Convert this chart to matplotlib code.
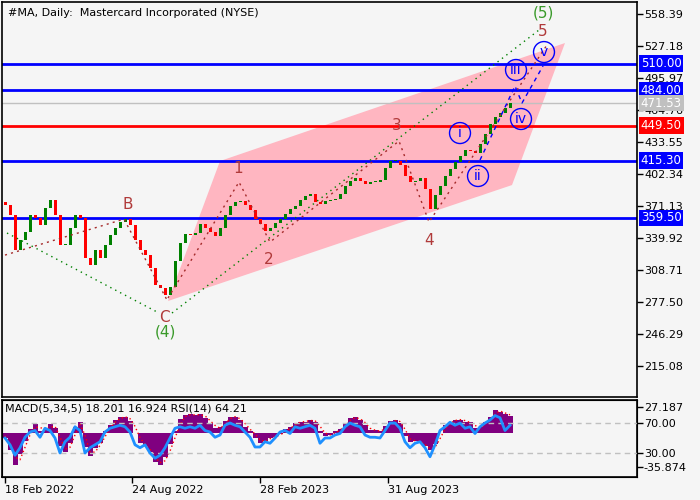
import numpy as np
import matplotlib
matplotlib.use("Agg")
import matplotlib.pyplot as plt
import matplotlib.transforms as mtransforms
from matplotlib.patches import Polygon

# weekly closes (every 5 trading days), from 18 Feb 2022
closes = [372, 362, 328, 338, 346, 362, 359, 353, 369, 377,
          362, 333, 333, 350, 362, 359, 320, 314, 328, 320,
          333, 343, 350, 356, 358, 353, 338, 328, 323, 311,
          294, 291, 284, 292, 318, 335, 344, 343, 345, 354,
          350, 346, 342, 350, 362, 371, 375, 376, 372, 367,
          358, 354, 347, 350, 355, 358, 363, 368, 371, 377,
          381, 383, 375, 373, 376, 377, 378, 383, 391, 396,
          398, 396, 393, 395, 395, 397, 408, 415, 415, 411,
          400, 395, 396, 398, 388, 368, 382, 391, 400, 407,
          414, 420, 426, 425, 423, 432, 441, 451, 458, 462,
          467, 472]
first_open = 375

rsi = [50, 41, 27, 37, 51, 58, 60, 51, 63, 60,
       50, 30, 45, 51, 65, 60, 30, 37, 41, 45,
       58, 63, 65, 67, 65, 58, 41, 37, 41, 30,
       23, 27, 37, 50, 63, 65, 63, 65, 63, 67,
       60, 58, 51, 54, 67, 70, 67, 65, 58, 51,
       38, 38, 45, 43, 50, 58, 60, 56, 65, 63,
       65, 67, 63, 43, 50, 50, 54, 56, 65, 70,
       67, 65, 54, 51, 51, 50, 60, 70, 70, 63,
       45, 37, 43, 45, 37, 25, 41, 60, 65, 71,
       67, 70, 63, 65, 56, 65, 70, 74, 80, 77,
       60, 67]

macd = [-5, -18, -33, -22, -8, 4, 9, 2, 4, 9,
        5, -14, -20, -10, 6, 12, -15, -24, -16, -10,
        2, 8, 14, 17, 17, 13, 0, -10, -14, -20,
        -30, -33, -25, -12, 2, 15, 19, 20, 19, 20,
        16, 10, 5, 6, 13, 17, 17, 14, 6, 2,
        -5, -10, -8, -5, -4, -1, 4, 6, 10, 12,
        12, 14, 12, 2, -3, -2, 2, 4, 10, 16,
        17, 14, 8, 3, 3, 2, 7, 13, 14, 10,
        -3, -9, -8, -10, -14, -18, -12, 0, 8, 12,
        14, 14, 12, 11, 5, 6, 12, 17, 24, 22,
        20, 18]

signal = [-3, -11, -25, -28, -15, -2, 6, 6, 3, 6,
          7, -4, -17, -15, -2, 9, -2, -20, -20, -13,
          -4, 5, 11, 15, 17, 15, 7, -5, -12, -17,
          -25, -31, -29, -19, -5, 8, 17, 19, 19, 19,
          18, 13, 8, 5, 9, 15, 17, 15, 10, 4,
          -1, -7, -9, -6, -4, -2, 1, 5, 8, 11,
          12, 13, 13, 7, 0, -2, 0, 3, 7, 13,
          16, 15, 11, 5, 3, 2, 4, 10, 13, 12,
          4, -6, -8, -9, -12, -16, -15, -6, 4, 10,
          13, 14, 13, 11, 8, 5, 9, 14, 20, 23,
          21, 19]

# levels
blue_levels = [510.0, 484.0, 415.3, 359.5]
red_level = 449.5
last_price = 471.53

# channel (day, price)
channel_days = [163, 215, 560, 507]
channel_prices = [278.5, 415.0, 530.1, 391.6]

# wave paths
green_abc = ([2, 154], [344.8, 266.8])
green_up = ([167, 534], [266.8, 542.8])
brown_abc = ([0, 119, 162], [323.3, 358.4, 279.5])
brown_imp = ([163, 234, 265, 394, 424, 542], [281.4, 394.5, 336.0, 434.5, 355.5, 528.2])
blue_sub = ([475, 510, 517, 538], [416.0, 488.1, 471.6, 507.7])

wave_labels = ["B", "C", "1", "2", "3", "4", "5"]
wave_lab_days = [123, 159, 233, 264, 392, 424, 538]
wave_lab_prices = [373.0, 262.0, 408.0, 319.0, 450.0, 338.0, 541.8]
green_labels = ["(4)", "(5)"]
green_lab_days = [160, 538]
green_lab_prices = [248.0, 559.4]
circ_labels = ["i", "ii", "iii", "iv", "v"]
circ_days = [455, 473, 511, 516, 539]
circ_prices = [442.3, 400.4, 503.8, 456.0, 521.3]

yticks = [558.39, 527.18, 495.97, 464.76, 433.55, 402.34, 371.13, 339.92, 308.71, 277.50, 246.29, 215.08]
date_ticks = [0, 127, 255, 383]
date_labels = ["18 Feb 2022", "24 Aug 2022", "28 Feb 2023", "31 Aug 2023"]

bg = "#f5f5f5"
fs = 8
fig = plt.figure(figsize=(7, 5), dpi=100, facecolor=bg)
ax = fig.add_axes([2 / 700, 103 / 500, 635 / 700, 395 / 500], facecolor=bg)
ax2 = fig.add_axes([2 / 700, 23 / 500, 635 / 700, 77 / 500], facecolor=bg)

days = np.arange(len(closes)) * 5
opens = [first_open] + closes[:-1]

# channel
ax.add_patch(Polygon(list(zip(channel_days, channel_prices)), closed=True,
                     facecolor="#ffb6c1", edgecolor="none", zorder=1))

for lv in blue_levels:
    ax.axhline(lv, color="#0000ff", lw=2, zorder=2)
ax.axhline(red_level, color="#ff0000", lw=2, zorder=2)
ax.axhline(last_price, color="#c0c0c0", lw=1, zorder=2)

# candles
for d, o, c in zip(days, opens, closes):
    col = "#008000" if c >= o else "#ff0000"
    h = c - o if abs(c - o) > 0.8 else 0.8
    ax.bar(d, h, bottom=o, width=3.0, color=col, zorder=3, linewidth=0)

# wave lines
ax.plot(*green_abc, color="#008000", ls=(0, (1, 3)), lw=1, zorder=4)
ax.plot(*green_up, color="#008000", ls=(0, (1, 3)), lw=1, zorder=4)
ax.plot(*brown_abc, color="#a52a2a", ls=(0, (1.5, 3)), lw=1, zorder=4)
ax.plot(*brown_imp, color="#a52a2a", ls=(0, (1.5, 3)), lw=1, zorder=4)
ax.plot(*blue_sub, color="#0000ff", ls=(0, (3, 3)), lw=1, zorder=4)

for t, d, p in zip(wave_labels, wave_lab_days, wave_lab_prices):
    ax.text(d, p, t, color="#b03a3a", fontsize=11, ha="center", va="center", zorder=5)
for t, d, p in zip(green_labels, green_lab_days, green_lab_prices):
    ax.text(d, p, t, color="#3a9a2a", fontsize=11, ha="center", va="center", zorder=5)
for t, d, p in zip(circ_labels, circ_days, circ_prices):
    ax.text(d, p, t, color="#0000ff", fontsize=10, ha="center", va="center", zorder=5,
            bbox=dict(boxstyle="circle,pad=0.25", fc="none", ec="#0000ff", lw=1))

ax.set_xlim(-3, 632)
ax.set_ylim(184.9, 570.1)
ax.yaxis.tick_right()
ax.set_yticks(yticks)
ax.set_yticklabels([f"{v:.2f}" for v in yticks])
ax.tick_params(axis="y", length=4, width=1, pad=1, labelsize=fs, colors="black")
ax.set_xticks([])
for s in ax.spines.values():
    s.set_linewidth(1.2)

trans = mtransforms.blended_transform_factory(ax.transAxes, ax.transData)
for lv, col in [(510.0, "#0000ff"), (484.0, "#0000ff"), (last_price, "#c0c0c0"),
                (red_level, "#ff0000"), (415.3, "#0000ff"), (359.5, "#0000ff")]:
    ax.text(1.006, lv, f"{lv:.2f}", transform=trans, color="white", fontsize=fs + 0.5,
            ha="left", va="center", zorder=6, clip_on=False,
            bbox=dict(boxstyle="square,pad=0.15", fc=col, ec="none"))

ax.text(0.01, 0.985, "#MA, Daily:  Mastercard Incorporated (NYSE)", transform=ax.transAxes,
        fontsize=fs, ha="left", va="top")

# indicator panel: RSI scale, MACD on twin
ax2.set_xlim(-3, 632)
ax2.set_ylim(-2, 100.7)
ax3 = ax2.twinx()
ax3.set_ylim(-46, 34.5)
ax3.bar(days, macd, width=5, color="#800080", zorder=2, linewidth=0)
ax3.plot(days, signal, color="#ff0000", ls=(0, (1, 2)), lw=1, zorder=3)
ax2.set_zorder(ax3.get_zorder() + 1)
ax2.patch.set_visible(False)
ax3.set_facecolor(bg)
ax2.axhline(70, color="#c0c0c0", ls=(0, (4, 3)), lw=1)
ax2.axhline(30, color="#c0c0c0", ls=(0, (4, 3)), lw=1)
ax2.plot(days, rsi, color="#1e90ff", lw=2)
ax2.yaxis.tick_right()
ax2.set_yticks([70, 30])
ax2.set_yticklabels(["70.00", "30.00"])
ax3.set_yticks([27.187, -35.874])
ax3.set_yticklabels(["27.187", "-35.874"])
for a in (ax2, ax3):
    a.tick_params(axis="y", length=4, width=1, pad=1, labelsize=fs)
ax2.set_xticks(date_ticks)
ax2.set_xticklabels(date_labels, ha="left")
ax2.tick_params(axis="x", length=4, width=1, pad=2, labelsize=fs)
for s in ax3.spines.values():
    s.set_linewidth(1.2)
ax2.text(0.004, 0.95, "MACD(5,34,5) 18.201 16.924 RSI(14) 64.21", transform=ax2.transAxes,
         fontsize=fs, ha="left", va="top")

fig.savefig("out.png", dpi=100, facecolor=bg)
